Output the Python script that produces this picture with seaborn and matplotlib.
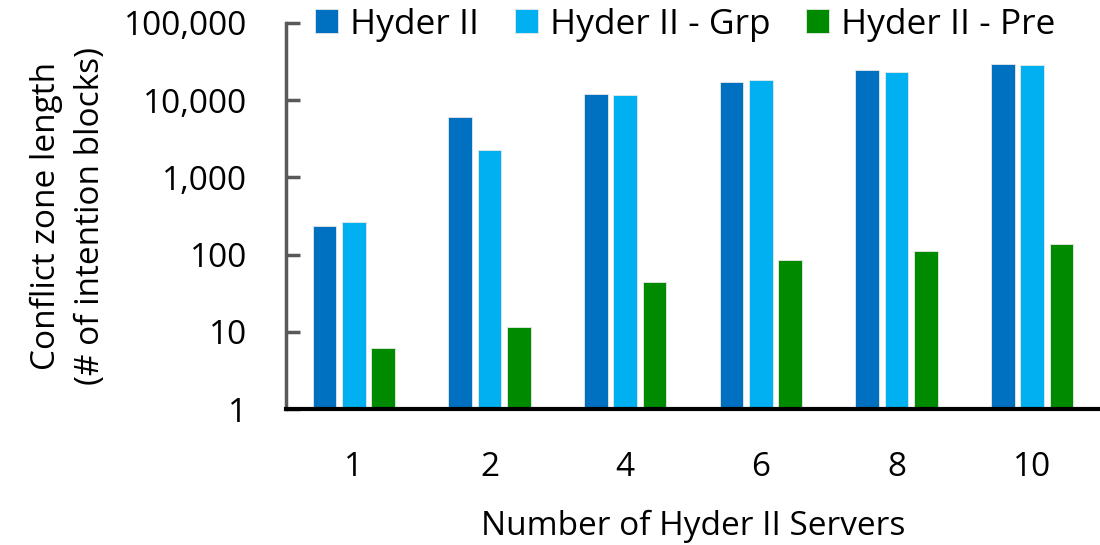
import matplotlib
matplotlib.use("agg")
from matplotlib import pyplot as plt
from matplotlib.ticker import FixedLocator, FuncFormatter, NullLocator
import pandas as pd
import seaborn as sns

servers = ["1", "2", "4", "6", "8", "10"]
series = ["Hyder II", "Hyder II - Grp", "Hyder II - Pre"]
hyder = [236, 6130, 12200, 17300, 24400, 29800]
hyder_grp = [263, 2265, 11600, 18100, 23300, 28600]
hyder_pre = [6.1, 11.7, 44, 84, 110, 137]
colors = ["#0070C0", "#00B0F0", "#008A00"]

rows = []
for name, vals in zip(series, [hyder, hyder_grp, hyder_pre]):
    for s, v in zip(servers, vals):
        rows.append({"servers": s, "series": name, "value": v})
df = pd.DataFrame(rows)

sns.set_style("white")
plt.rcParams["font.family"] = ["Open Sans", "DejaVu Sans"]
plt.rcParams["text.color"] = "black"
plt.rcParams["axes.labelcolor"] = "black"
plt.rcParams["xtick.labelcolor"] = "black"
plt.rcParams["ytick.labelcolor"] = "black"

fig = plt.figure(figsize=(11, 5.45), dpi=100)
ax = fig.add_axes([0.26, 0.2495, 0.74, 0.7083])

sns.barplot(data=df, x="servers", y="value", hue="series", order=servers,
            hue_order=series, palette=colors, saturation=1, width=0.65, gap=0.2,
            edgecolor="#e8e8e8", linewidth=0.6, ax=ax, legend=True)

ax.set_yscale("log")
ax.set_ylim(1, 100000)
ax.set_xlim(-0.5, 5.5)
ax.yaxis.set_major_locator(FixedLocator([1, 10, 100, 1000, 10000, 100000]))
ax.yaxis.set_minor_locator(NullLocator())
ax.yaxis.set_major_formatter(FuncFormatter(lambda v, p: f"{v:,.0f}"))

for s in ["top", "right"]:
    ax.spines[s].set_visible(False)
ax.spines["left"].set_color("#595959")
ax.spines["left"].set_linewidth(2.5)
ax.spines["bottom"].set_color("black")
ax.spines["bottom"].set_linewidth(3)

ax.tick_params(axis="y", direction="in", length=10, width=2.5, color="#595959",
               labelsize=24, pad=28, left=True)
ax.tick_params(axis="x", length=0, labelsize=24, pad=30)

ax.set_xlabel("Number of Hyder II Servers", fontsize=24, labelpad=19)
ax.set_ylabel("Conflict zone length\n(# of intention blocks)", fontsize=24,
              labelpad=12, linespacing=1.45)

ax.legend(loc="center", bbox_to_anchor=(0.623, 0.955), bbox_transform=fig.transFigure,
          ncol=3, frameon=False, fontsize=25.5, handlelength=0.65, handleheight=0.65,
          handletextpad=0.35, columnspacing=1.0, borderaxespad=0)

plt.savefig("out.png", dpi=100)
